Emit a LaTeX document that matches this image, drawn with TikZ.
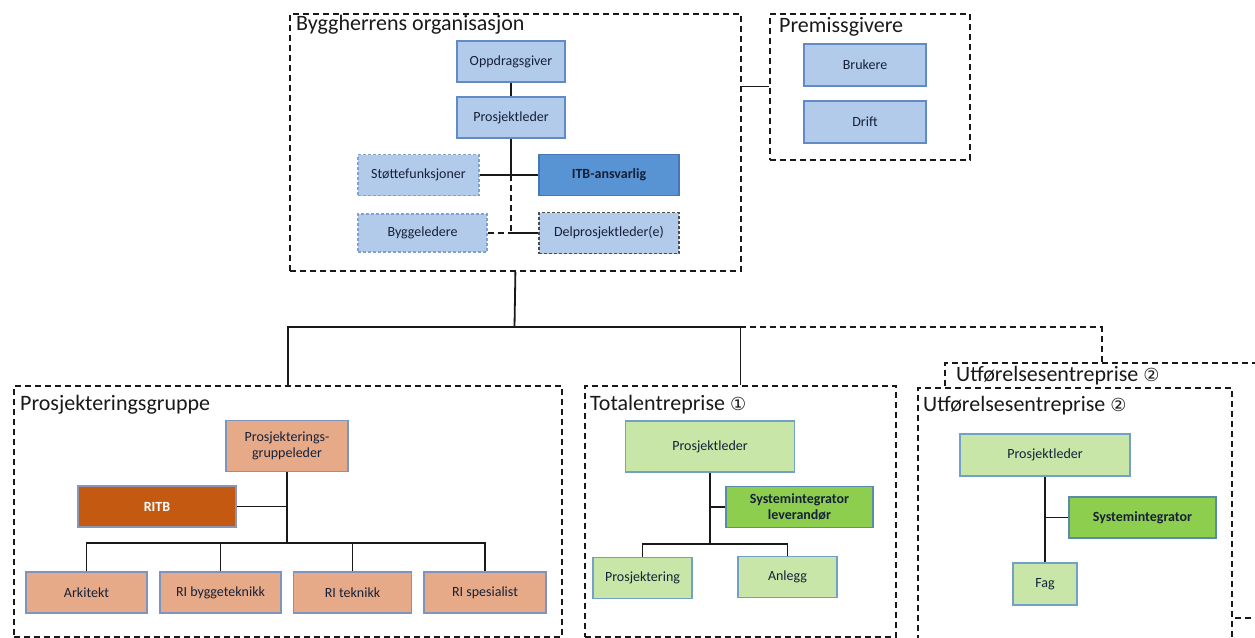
\documentclass[tikz,border=0pt]{standalone}
\usepackage{fontspec}
\setmainfont{Carlito}
\newfontfamily\dejavu{DejaVu Sans}
\usetikzlibrary{calc}
\definecolor{lblue}{RGB}{178,203,234}
\definecolor{lblueb}{RGB}{98,138,196}
\definecolor{mblue}{RGB}{88,148,212}
\definecolor{mblueb}{RGB}{70,120,185}
\definecolor{salmon}{RGB}{230,170,136}
\definecolor{salmonb}{RGB}{125,148,190}
\definecolor{rust}{RGB}{196,90,18}
\definecolor{rustb}{RGB}{140,150,180}
\definecolor{lgreen}{RGB}{200,230,168}
\definecolor{lgreenb}{RGB}{115,160,200}
\definecolor{mgreen}{RGB}{142,206,78}
\definecolor{mgreenb}{RGB}{90,140,170}
\definecolor{txt}{RGB}{22,32,56}
\tikzset{
  container/.style={draw=black!90, line width=1.8pt, dash pattern=on 6pt off 4pt, inner sep=0pt, anchor=north west},
  title/.style={anchor=west, inner sep=0pt, font=\fontsize{22}{24}\selectfont, text=black!90},
  box/.style={draw, line width=1.1pt, inner sep=2pt, align=center, text=txt, font=\fontsize{14}{16.5}\selectfont},
  bluebox/.style={box, fill=lblue, draw=lblueb},
  bluedash/.style={box, fill=lblue, draw=lblueb!80, dash pattern=on 3pt off 2pt, line width=1.3pt},
  bluedashdark/.style={box, fill=lblue, draw=black!70, dash pattern=on 3pt off 2pt, line width=1.3pt},
  itbbox/.style={box, fill=mblue, draw=mblueb, font=\fontsize{14}{16.5}\selectfont\bfseries},
  orbox/.style={box, fill=salmon, draw=salmonb},
  rustbox/.style={box, fill=rust, draw=rustb, text=white, font=\fontsize{14}{16.5}\selectfont\bfseries},
  grbox/.style={box, fill=lgreen, draw=lgreenb},
  dgbox/.style={box, fill=mgreen, draw=mgreenb, font=\fontsize{14}{16.5}\selectfont\bfseries},
  conn/.style={draw=black!90, line width=1.8pt},
  dconn/.style={draw=black!90, line width=1.8pt, dash pattern=on 6pt off 4pt},
}
\begin{document}
\begin{tikzpicture}[x=1pt,y=-1pt]
\useasboundingbox (0,0) rectangle (1255,637);
% ---------- containers ----------
\node[container, minimum width=451pt, minimum height=257pt] (ob) at (289,13) {};
\node[title] (obt) at (296,25) {Byggherrens organisasjon};
\node[container, minimum width=200pt, minimum height=146pt] (pg) at (769,13) {};
\node[title] (pgt) at (779,27) {Premissgivere};
\node[container, minimum width=548pt, minimum height=251pt] (pgr) at (13,385) {};
\node[title] (pgrt) at (20,405) {Prosjekteringsgruppe};
\node[container, minimum width=311pt, minimum height=251pt] (te) at (584,385) {};
\node[title] (tet) at (590,405) {Totalentreprise {\dejavu\fontsize{18}{20}\selectfont ①}};
\node[container, minimum width=314pt, minimum height=255pt] (ubb) at (944,362) {};
\node[container, fill=white, minimum width=314pt, minimum height=255pt] (ub) at (917,387) {};
\node[title, fill=white, inner sep=1pt] (ubbt) at (955,376) {Utførelsesentreprise {\dejavu\fontsize{18}{20}\selectfont ②}};
\node[title] (ubt) at (923,406) {Utførelsesentreprise {\dejavu\fontsize{18}{20}\selectfont ②}};
% ---------- Byggherrens organisasjon ----------
\node[bluebox, minimum width=108pt, minimum height=41pt] (opp) at (511,61.5) {Oppdragsgiver};
\node[bluebox, minimum width=108pt, minimum height=41pt] (pl) at (511,117.5) {Prosjektleder};
\node[bluedash, minimum width=121pt, minimum height=41pt] (stf) at (418.5,175) {Støttefunksjoner};
\node[itbbox, minimum width=140pt, minimum height=41pt] (itb) at (609,175) {ITB-ansvarlig};
\node[bluedash, minimum width=129pt, minimum height=38pt] (byg) at (422.5,233) {Byggeledere};
\node[bluedashdark, minimum width=140pt, minimum height=41pt] (del) at (609,233) {Delprosjektleder(e)};
\coordinate (j1) at (pl.south |- stf.east);
\coordinate (j2) at (pl.south |- del.west);
\draw[conn] (opp.south) -- (pl.north);
\draw[conn] (pl.south) -- (j1);
\draw[conn] (stf.east) -- (itb.west);
\draw[dconn] (j1) -- (j2);
\draw[conn] (j2) -- (del.west);
\draw[dconn] (byg.east) -- (j2);
% ---------- Premissgivere ----------
\node[bluebox, minimum width=122pt, minimum height=42pt] (bru) at (865,65) {Brukere};
\node[bluebox, minimum width=122pt, minimum height=42pt] (dri) at (865,122) {Drift};
\draw[conn] (ob.north east |- bru.south) -- (pg.west |- bru.south);
% ---------- top-level connectors ----------
\coordinate (hub) at (514.5,327);
\draw[conn] (ob.south) -- (hub);
\draw[conn] (pgr.north) -- (pgr.north |- hub) -- (te.north |- hub) -- (te.north);
\draw[dconn] (te.north |- hub) -- (ubb.north |- hub) -- (ubb.north);
% ---------- Prosjekteringsgruppe ----------
\node[orbox, minimum width=122pt, minimum height=51pt] (pgl) at (287,446) {Prosjekterings-\\gruppeleder};
\node[rustbox, minimum width=158pt, minimum height=41pt] (ritb) at (157,506.5) {RITB};
\node[orbox, minimum width=121pt, minimum height=41pt] (ark) at (86.5,592.5) {Arkitekt};
\node[orbox, minimum width=121pt, minimum height=41pt] (rib) at (220.5,592.5) {RI byggeteknikk};
\node[orbox, minimum width=118pt, minimum height=41pt] (rit) at (352.5,592.5) {RI teknikk};
\node[orbox, minimum width=122pt, minimum height=41pt] (ris) at (485,592.5) {RI spesialist};
\coordinate (pj) at (pgl.south |- 0,543);
\draw[conn] (pgl.south) -- (pj);
\draw[conn] (ritb.east) -- (pgl.south |- ritb.east);
\draw[conn] (ark.north) -- (ark.north |- pj) -- (ris.north |- pj) -- (ris.north);
\draw[conn] (rib.north) -- (rib.north |- pj);
\draw[conn] (rit.north) -- (rit.north |- pj);
% ---------- Totalentreprise ----------
\node[grbox, minimum width=169pt, minimum height=51pt] (tpl) at (710,446.5) {Prosjektleder};
\node[dgbox, minimum width=147pt, minimum height=41pt] (tsi) at (799.5,507) {Systemintegrator\\leverandør};
\node[grbox, minimum width=99pt, minimum height=41pt] (tpr) at (642.5,578) {Prosjektering};
\node[grbox, minimum width=99pt, minimum height=41pt] (tan) at (787.5,577) {Anlegg};
\coordinate (tj) at (tpl.south |- 0,544);
\draw[conn] (tpl.south) -- (tj);
\draw[conn] (tsi.west) -- (tpl.south |- tsi.west);
\draw[conn] (tpr.north) -- (tpr.north |- tj) -- (tan.north |- tj) -- (tan.north);
% ---------- Utførelsesentreprise ----------
\node[grbox, minimum width=170pt, minimum height=42pt] (upl) at (1045,455) {Prosjektleder};
\node[dgbox, minimum width=147pt, minimum height=41pt] (usi) at (1142.5,517.5) {Systemintegrator};
\node[grbox, minimum width=64pt, minimum height=42pt] (ufa) at (1045,584) {Fag};
\draw[conn] (upl.south) -- (ufa.north);
\draw[conn] (usi.west) -- (upl.south |- usi.west);
\end{tikzpicture}
\end{document}
